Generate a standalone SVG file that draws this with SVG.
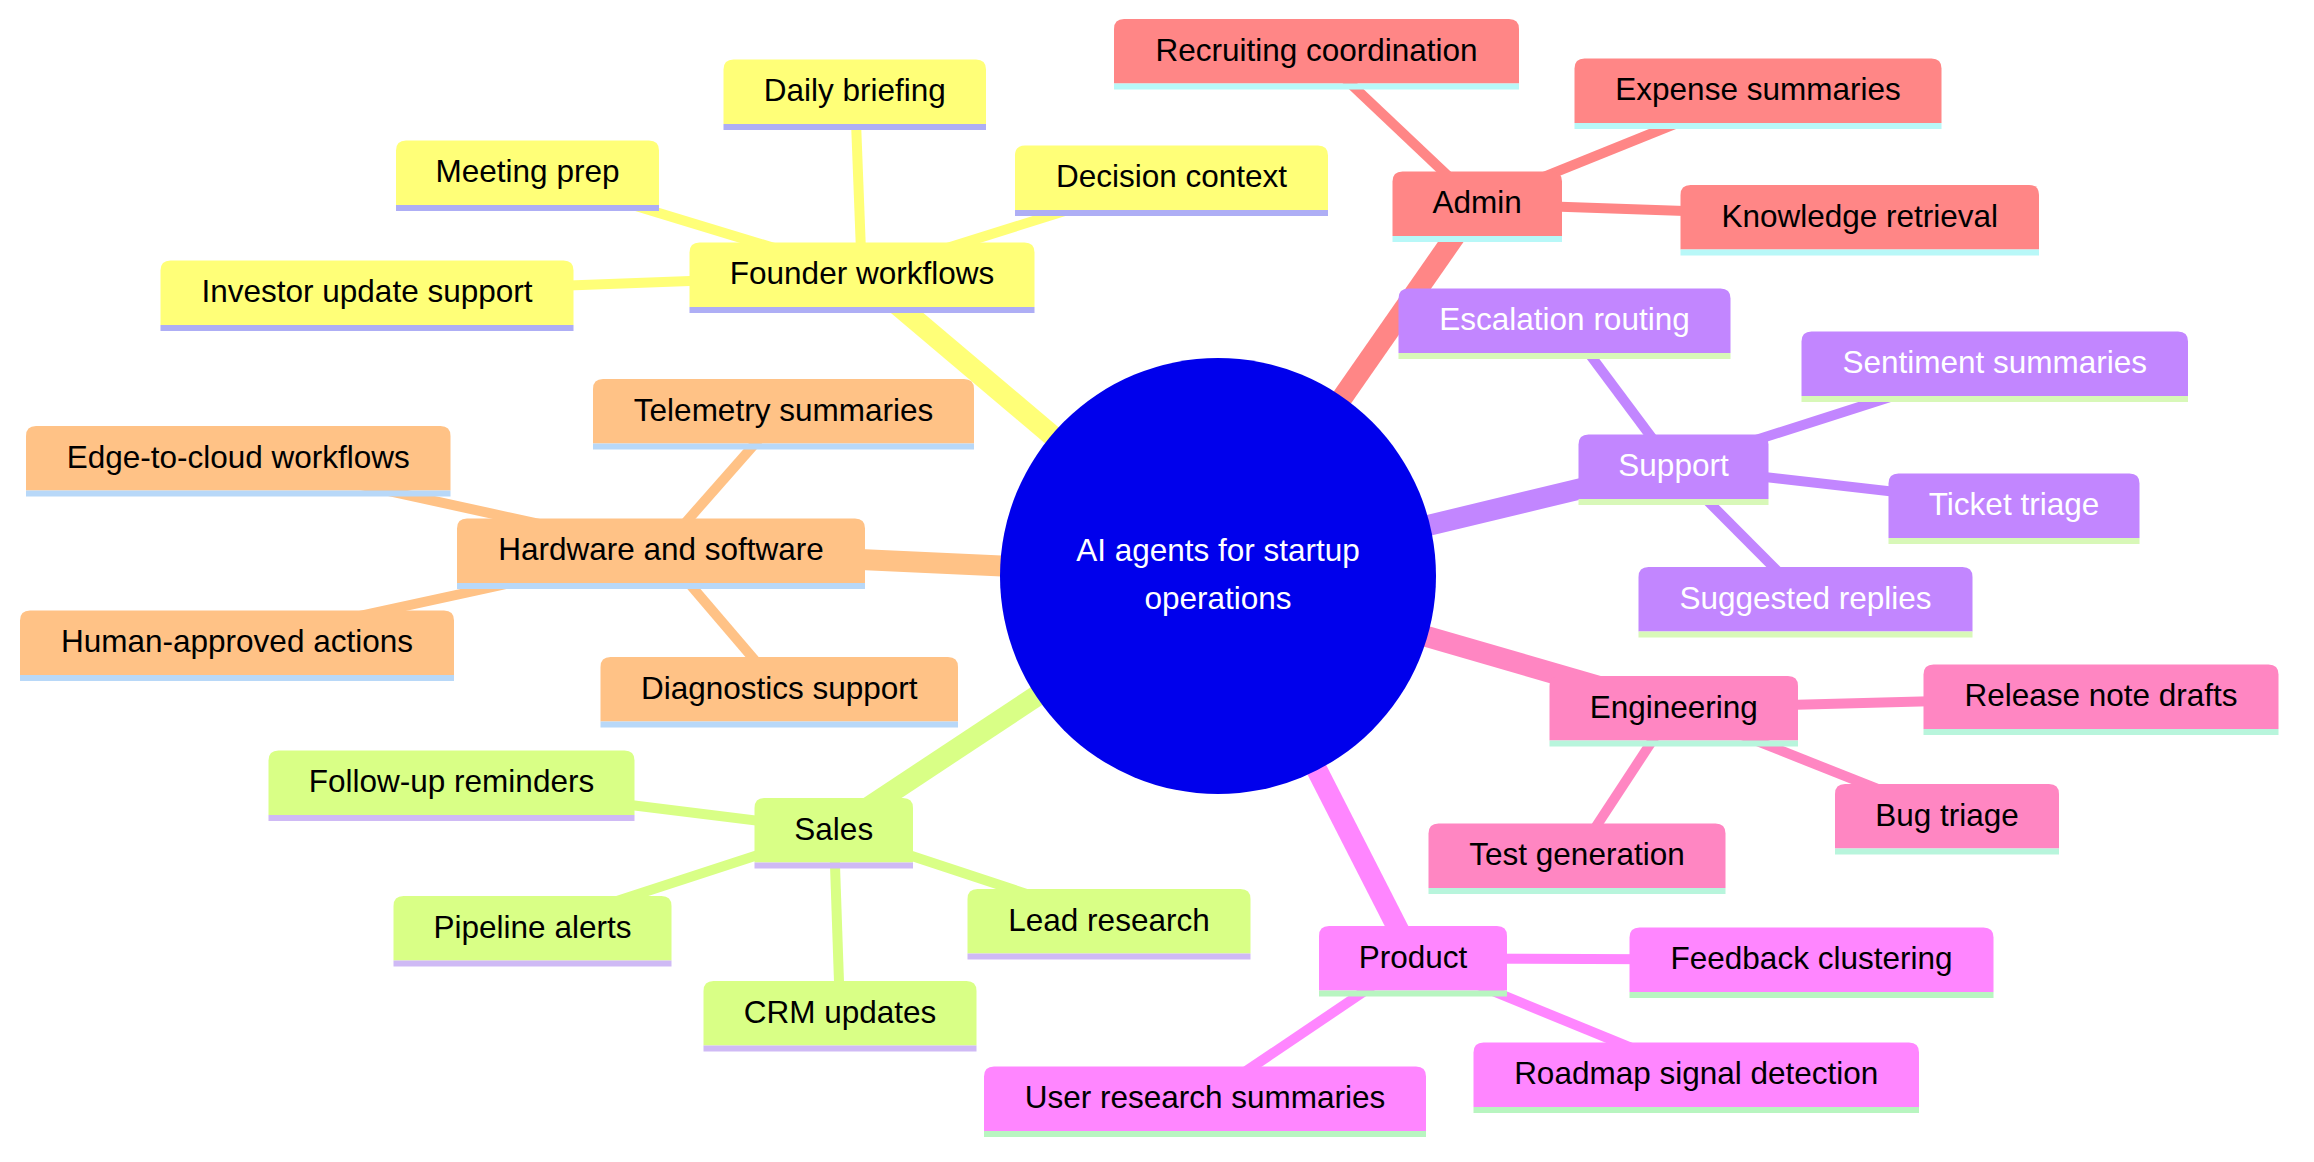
<svg xmlns="http://www.w3.org/2000/svg" width="2314" height="1162" viewBox="0 0 2314 1162">
<style>
text{font-family:"Liberation Sans",Arial,sans-serif;font-size:31.5px;text-anchor:middle;fill:#000}
.s0 .b{fill:#ffff78}.s0 .l{fill:#aeaef5}
.s1 .b{fill:#ffc286}.s1 .l{fill:#b8d8f8}
.s2 .b{fill:#d9ff86}.s2 .l{fill:#cfbaf5}
.s3 .b{fill:#ff86ff}.s3 .l{fill:#b8f5c0}
.s4 .b{fill:#ff86c2}.s4 .l{fill:#b8f5dc}
.s5 .b{fill:#c286ff}.s5 .l{fill:#d8f8b8}.s5 text{fill:#fff}
.s6 .b{fill:#ff8686}.s6 .l{fill:#b8f8f8}
.e line{fill:none;stroke-linecap:butt}
.d1{stroke-width:21}.d2{stroke-width:10}
.c0{stroke:#ffff78}.c1{stroke:#ffc286}.c2{stroke:#d9ff86}.c3{stroke:#ff86ff}.c4{stroke:#ff86c2}.c5{stroke:#c286ff}.c6{stroke:#ff8686}
</style>
<g id="connectors" class="e">
<line class="d1 c0" x1="1218" y1="576" x2="861.9" y2="274.75"/>
<line class="d2 c0" x1="861.9" y1="274.75" x2="854.85" y2="91.85"/>
<line class="d2 c0" x1="861.9" y1="274.75" x2="527.5" y2="172.95"/>
<line class="d2 c0" x1="861.9" y1="274.75" x2="1171.5" y2="177.55"/>
<line class="d2 c0" x1="861.9" y1="274.75" x2="366.95" y2="292.95"/>
<line class="d1 c1" x1="1218" y1="576" x2="661" y2="550.45"/>
<line class="d2 c1" x1="661" y1="550.45" x2="783.8" y2="410.95"/>
<line class="d2 c1" x1="661" y1="550.45" x2="238.2" y2="458.25"/>
<line class="d2 c1" x1="661" y1="550.45" x2="237.1" y2="642.55"/>
<line class="d2 c1" x1="661" y1="550.45" x2="779.4" y2="688.95"/>
<line class="d1 c2" x1="1218" y1="576" x2="833.8" y2="830.2"/>
<line class="d2 c2" x1="833.8" y1="830.2" x2="451.7" y2="782.9"/>
<line class="d2 c2" x1="833.8" y1="830.2" x2="532.65" y2="928.4"/>
<line class="d2 c2" x1="833.8" y1="830.2" x2="1108.95" y2="921.1"/>
<line class="d2 c2" x1="833.8" y1="830.2" x2="840.05" y2="1012.8"/>
<line class="d1 c3" x1="1218" y1="576" x2="1413.1" y2="958.45"/>
<line class="d2 c3" x1="1413.1" y1="958.45" x2="1811.4" y2="959.9"/>
<line class="d2 c3" x1="1413.1" y1="958.45" x2="1696.3" y2="1074.45"/>
<line class="d2 c3" x1="1413.1" y1="958.45" x2="1205.05" y2="1098.75"/>
<line class="d1 c4" x1="1218" y1="576" x2="1673.7" y2="708.1"/>
<line class="d2 c4" x1="1673.7" y1="708.1" x2="2100.9" y2="696.75"/>
<line class="d2 c4" x1="1673.7" y1="708.1" x2="1947.2" y2="816.5"/>
<line class="d2 c4" x1="1673.7" y1="708.1" x2="1576.85" y2="855.8"/>
<line class="d1 c5" x1="1218" y1="576" x2="1673.3" y2="466.45"/>
<line class="d2 c5" x1="1673.3" y1="466.45" x2="1564.6" y2="320.65"/>
<line class="d2 c5" x1="1673.3" y1="466.45" x2="1994.75" y2="363.55"/>
<line class="d2 c5" x1="1673.3" y1="466.45" x2="2014.05" y2="505.45"/>
<line class="d2 c5" x1="1673.3" y1="466.45" x2="1805.45" y2="599.25"/>
<line class="d1 c6" x1="1218" y1="576" x2="1477.35" y2="203.75"/>
<line class="d2 c6" x1="1477.35" y1="203.75" x2="1316.55" y2="51.65"/>
<line class="d2 c6" x1="1477.35" y1="203.75" x2="1757.95" y2="90.5"/>
<line class="d2 c6" x1="1477.35" y1="203.75" x2="1860" y2="217.15"/>
</g>
<g id="root">
<circle cx="1218" cy="576" r="218" fill="#0000ec"/>
<text x="1218" y="561" style="fill:#fff">AI agents for startup</text>
<text x="1218" y="609" style="fill:#fff">operations</text>
</g>
<!-- Founder -->
<g id="founder-workflows" class="s0" transform="translate(689.5,242.5)"><path class="b" d="M0,64.5V10Q0,0 10,0H335Q345,0 345,10V64.5Z"/><rect class="l" y="64.5" width="345" height="6"/><text x="172.5" y="41.75">Founder workflows</text></g>
<g id="daily-briefing" class="s0" transform="translate(723.5,59.5)"><path class="b" d="M0,64.5V10Q0,0 10,0H252.5Q262.5,0 262.5,10V64.5Z"/><rect class="l" y="64.5" width="262.5" height="6"/><text x="131.25" y="41.75">Daily briefing</text></g>
<g id="meeting-prep" class="s0" transform="translate(396,140.5)"><path class="b" d="M0,64.5V10Q0,0 10,0H253Q263,0 263,10V64.5Z"/><rect class="l" y="64.5" width="263" height="6"/><text x="131.5" y="41.75">Meeting prep</text></g>
<g id="decision-context" class="s0" transform="translate(1015,145.5)"><path class="b" d="M0,64.5V10Q0,0 10,0H303Q313,0 313,10V64.5Z"/><rect class="l" y="64.5" width="313" height="6"/><text x="156.5" y="41.75">Decision context</text></g>
<g id="investor-update-support" class="s0" transform="translate(160.5,260.5)"><path class="b" d="M0,64.5V10Q0,0 10,0H403Q413,0 413,10V64.5Z"/><rect class="l" y="64.5" width="413" height="6"/><text x="206.5" y="41.75">Investor update support</text></g>
<!-- Hardware -->
<g id="hardware-and-software" class="s1" transform="translate(457,518.5)"><path class="b" d="M0,64.5V10Q0,0 10,0H398Q408,0 408,10V64.5Z"/><rect class="l" y="64.5" width="408" height="6"/><text x="204" y="41.75">Hardware and software</text></g>
<g id="telemetry-summaries" class="s1" transform="translate(593,379)"><path class="b" d="M0,64.5V10Q0,0 10,0H371Q381,0 381,10V64.5Z"/><rect class="l" y="64.5" width="381" height="6"/><text x="190.5" y="41.75">Telemetry summaries</text></g>
<g id="edge-to-cloud-workflows" class="s1" transform="translate(26,426)"><path class="b" d="M0,64.5V10Q0,0 10,0H414.5Q424.5,0 424.5,10V64.5Z"/><rect class="l" y="64.5" width="424.5" height="6"/><text x="212.25" y="41.75">Edge-to-cloud workflows</text></g>
<g id="human-approved-actions" class="s1" transform="translate(20,610.5)"><path class="b" d="M0,64.5V10Q0,0 10,0H424Q434,0 434,10V64.5Z"/><rect class="l" y="64.5" width="434" height="6"/><text x="217" y="41.75">Human-approved actions</text></g>
<g id="diagnostics-support" class="s1" transform="translate(600.5,657)"><path class="b" d="M0,64.5V10Q0,0 10,0H347.5Q357.5,0 357.5,10V64.5Z"/><rect class="l" y="64.5" width="357.5" height="6"/><text x="178.75" y="41.75">Diagnostics support</text></g>
<!-- Sales -->
<g id="sales" class="s2" transform="translate(754.5,798)"><path class="b" d="M0,64.5V10Q0,0 10,0H148.5Q158.5,0 158.5,10V64.5Z"/><rect class="l" y="64.5" width="158.5" height="6"/><text x="79.25" y="41.75">Sales</text></g>
<g id="follow-up-reminders" class="s2" transform="translate(268.5,750.5)"><path class="b" d="M0,64.5V10Q0,0 10,0H356Q366,0 366,10V64.5Z"/><rect class="l" y="64.5" width="366" height="6"/><text x="183" y="41.75">Follow-up reminders</text></g>
<g id="pipeline-alerts" class="s2" transform="translate(393.5,896)"><path class="b" d="M0,64.5V10Q0,0 10,0H268Q278,0 278,10V64.5Z"/><rect class="l" y="64.5" width="278" height="6"/><text x="139" y="41.75">Pipeline alerts</text></g>
<g id="lead-research" class="s2" transform="translate(967.5,889)"><path class="b" d="M0,64.5V10Q0,0 10,0H273Q283,0 283,10V64.5Z"/><rect class="l" y="64.5" width="283" height="6"/><text x="141.5" y="41.75">Lead research</text></g>
<g id="crm-updates" class="s2" transform="translate(703.5,981)"><path class="b" d="M0,64.5V10Q0,0 10,0H263Q273,0 273,10V64.5Z"/><rect class="l" y="64.5" width="273" height="6"/><text x="136.5" y="41.75">CRM updates</text></g>
<!-- Product -->
<g id="product" class="s3" transform="translate(1319,926)"><path class="b" d="M0,64.5V10Q0,0 10,0H178Q188,0 188,10V64.5Z"/><rect class="l" y="64.5" width="188" height="6"/><text x="94" y="41.75">Product</text></g>
<g id="feedback-clustering" class="s3" transform="translate(1629.5,927.5)"><path class="b" d="M0,64.5V10Q0,0 10,0H354Q364,0 364,10V64.5Z"/><rect class="l" y="64.5" width="364" height="6"/><text x="182" y="41.75">Feedback clustering</text></g>
<g id="roadmap-signal-detection" class="s3" transform="translate(1473.5,1042.5)"><path class="b" d="M0,64.5V10Q0,0 10,0H435.5Q445.5,0 445.5,10V64.5Z"/><rect class="l" y="64.5" width="445.5" height="6"/><text x="222.75" y="41.75">Roadmap signal detection</text></g>
<g id="user-research-summaries" class="s3" transform="translate(984,1066.5)"><path class="b" d="M0,64.5V10Q0,0 10,0H432Q442,0 442,10V64.5Z"/><rect class="l" y="64.5" width="442" height="6"/><text x="221" y="41.75">User research summaries</text></g>
<!-- Engineering -->
<g id="engineering" class="s4" transform="translate(1549.5,676)"><path class="b" d="M0,64.5V10Q0,0 10,0H238.5Q248.5,0 248.5,10V64.5Z"/><rect class="l" y="64.5" width="248.5" height="6"/><text x="124.25" y="41.75">Engineering</text></g>
<g id="release-note-drafts" class="s4" transform="translate(1923.5,664.5)"><path class="b" d="M0,64.5V10Q0,0 10,0H345Q355,0 355,10V64.5Z"/><rect class="l" y="64.5" width="355" height="6"/><text x="177.5" y="41.75">Release note drafts</text></g>
<g id="bug-triage" class="s4" transform="translate(1835,784)"><path class="b" d="M0,64.5V10Q0,0 10,0H214Q224,0 224,10V64.5Z"/><rect class="l" y="64.5" width="224" height="6"/><text x="112" y="41.75">Bug triage</text></g>
<g id="test-generation" class="s4" transform="translate(1428.5,823.5)"><path class="b" d="M0,64.5V10Q0,0 10,0H287Q297,0 297,10V64.5Z"/><rect class="l" y="64.5" width="297" height="6"/><text x="148.5" y="41.75">Test generation</text></g>
<!-- Support -->
<g id="support" class="s5" transform="translate(1578.5,434.5)"><path class="b" d="M0,64.5V10Q0,0 10,0H180Q190,0 190,10V64.5Z"/><rect class="l" y="64.5" width="190" height="6"/><text x="95" y="41.75">Support</text></g>
<g id="escalation-routing" class="s5" transform="translate(1398.5,288.5)"><path class="b" d="M0,64.5V10Q0,0 10,0H322Q332,0 332,10V64.5Z"/><rect class="l" y="64.5" width="332" height="6"/><text x="166" y="41.75">Escalation routing</text></g>
<g id="sentiment-summaries" class="s5" transform="translate(1801.5,331.5)"><path class="b" d="M0,64.5V10Q0,0 10,0H376.5Q386.5,0 386.5,10V64.5Z"/><rect class="l" y="64.5" width="386.5" height="6"/><text x="193.25" y="41.75">Sentiment summaries</text></g>
<g id="ticket-triage" class="s5" transform="translate(1888.5,473.5)"><path class="b" d="M0,64.5V10Q0,0 10,0H241Q251,0 251,10V64.5Z"/><rect class="l" y="64.5" width="251" height="6"/><text x="125.5" y="41.75">Ticket triage</text></g>
<g id="suggested-replies" class="s5" transform="translate(1638.5,567)"><path class="b" d="M0,64.5V10Q0,0 10,0H324Q334,0 334,10V64.5Z"/><rect class="l" y="64.5" width="334" height="6"/><text x="167" y="41.75">Suggested replies</text></g>
<!-- Admin -->
<g id="admin" class="s6" transform="translate(1392.5,171.5)"><path class="b" d="M0,64.5V10Q0,0 10,0H159.5Q169.5,0 169.5,10V64.5Z"/><rect class="l" y="64.5" width="169.5" height="6"/><text x="84.75" y="41.75">Admin</text></g>
<g id="recruiting-coordination" class="s6" transform="translate(1114,19)"><path class="b" d="M0,64.5V10Q0,0 10,0H395Q405,0 405,10V64.5Z"/><rect class="l" y="64.5" width="405" height="6"/><text x="202.5" y="41.75">Recruiting coordination</text></g>
<g id="expense-summaries" class="s6" transform="translate(1574.5,58.5)"><path class="b" d="M0,64.5V10Q0,0 10,0H357Q367,0 367,10V64.5Z"/><rect class="l" y="64.5" width="367" height="6"/><text x="183.5" y="41.75">Expense summaries</text></g>
<g id="knowledge-retrieval" class="s6" transform="translate(1680.5,185)"><path class="b" d="M0,64.5V10Q0,0 10,0H348.5Q358.5,0 358.5,10V64.5Z"/><rect class="l" y="64.5" width="358.5" height="6"/><text x="179.25" y="41.75">Knowledge retrieval</text></g>
</svg>
